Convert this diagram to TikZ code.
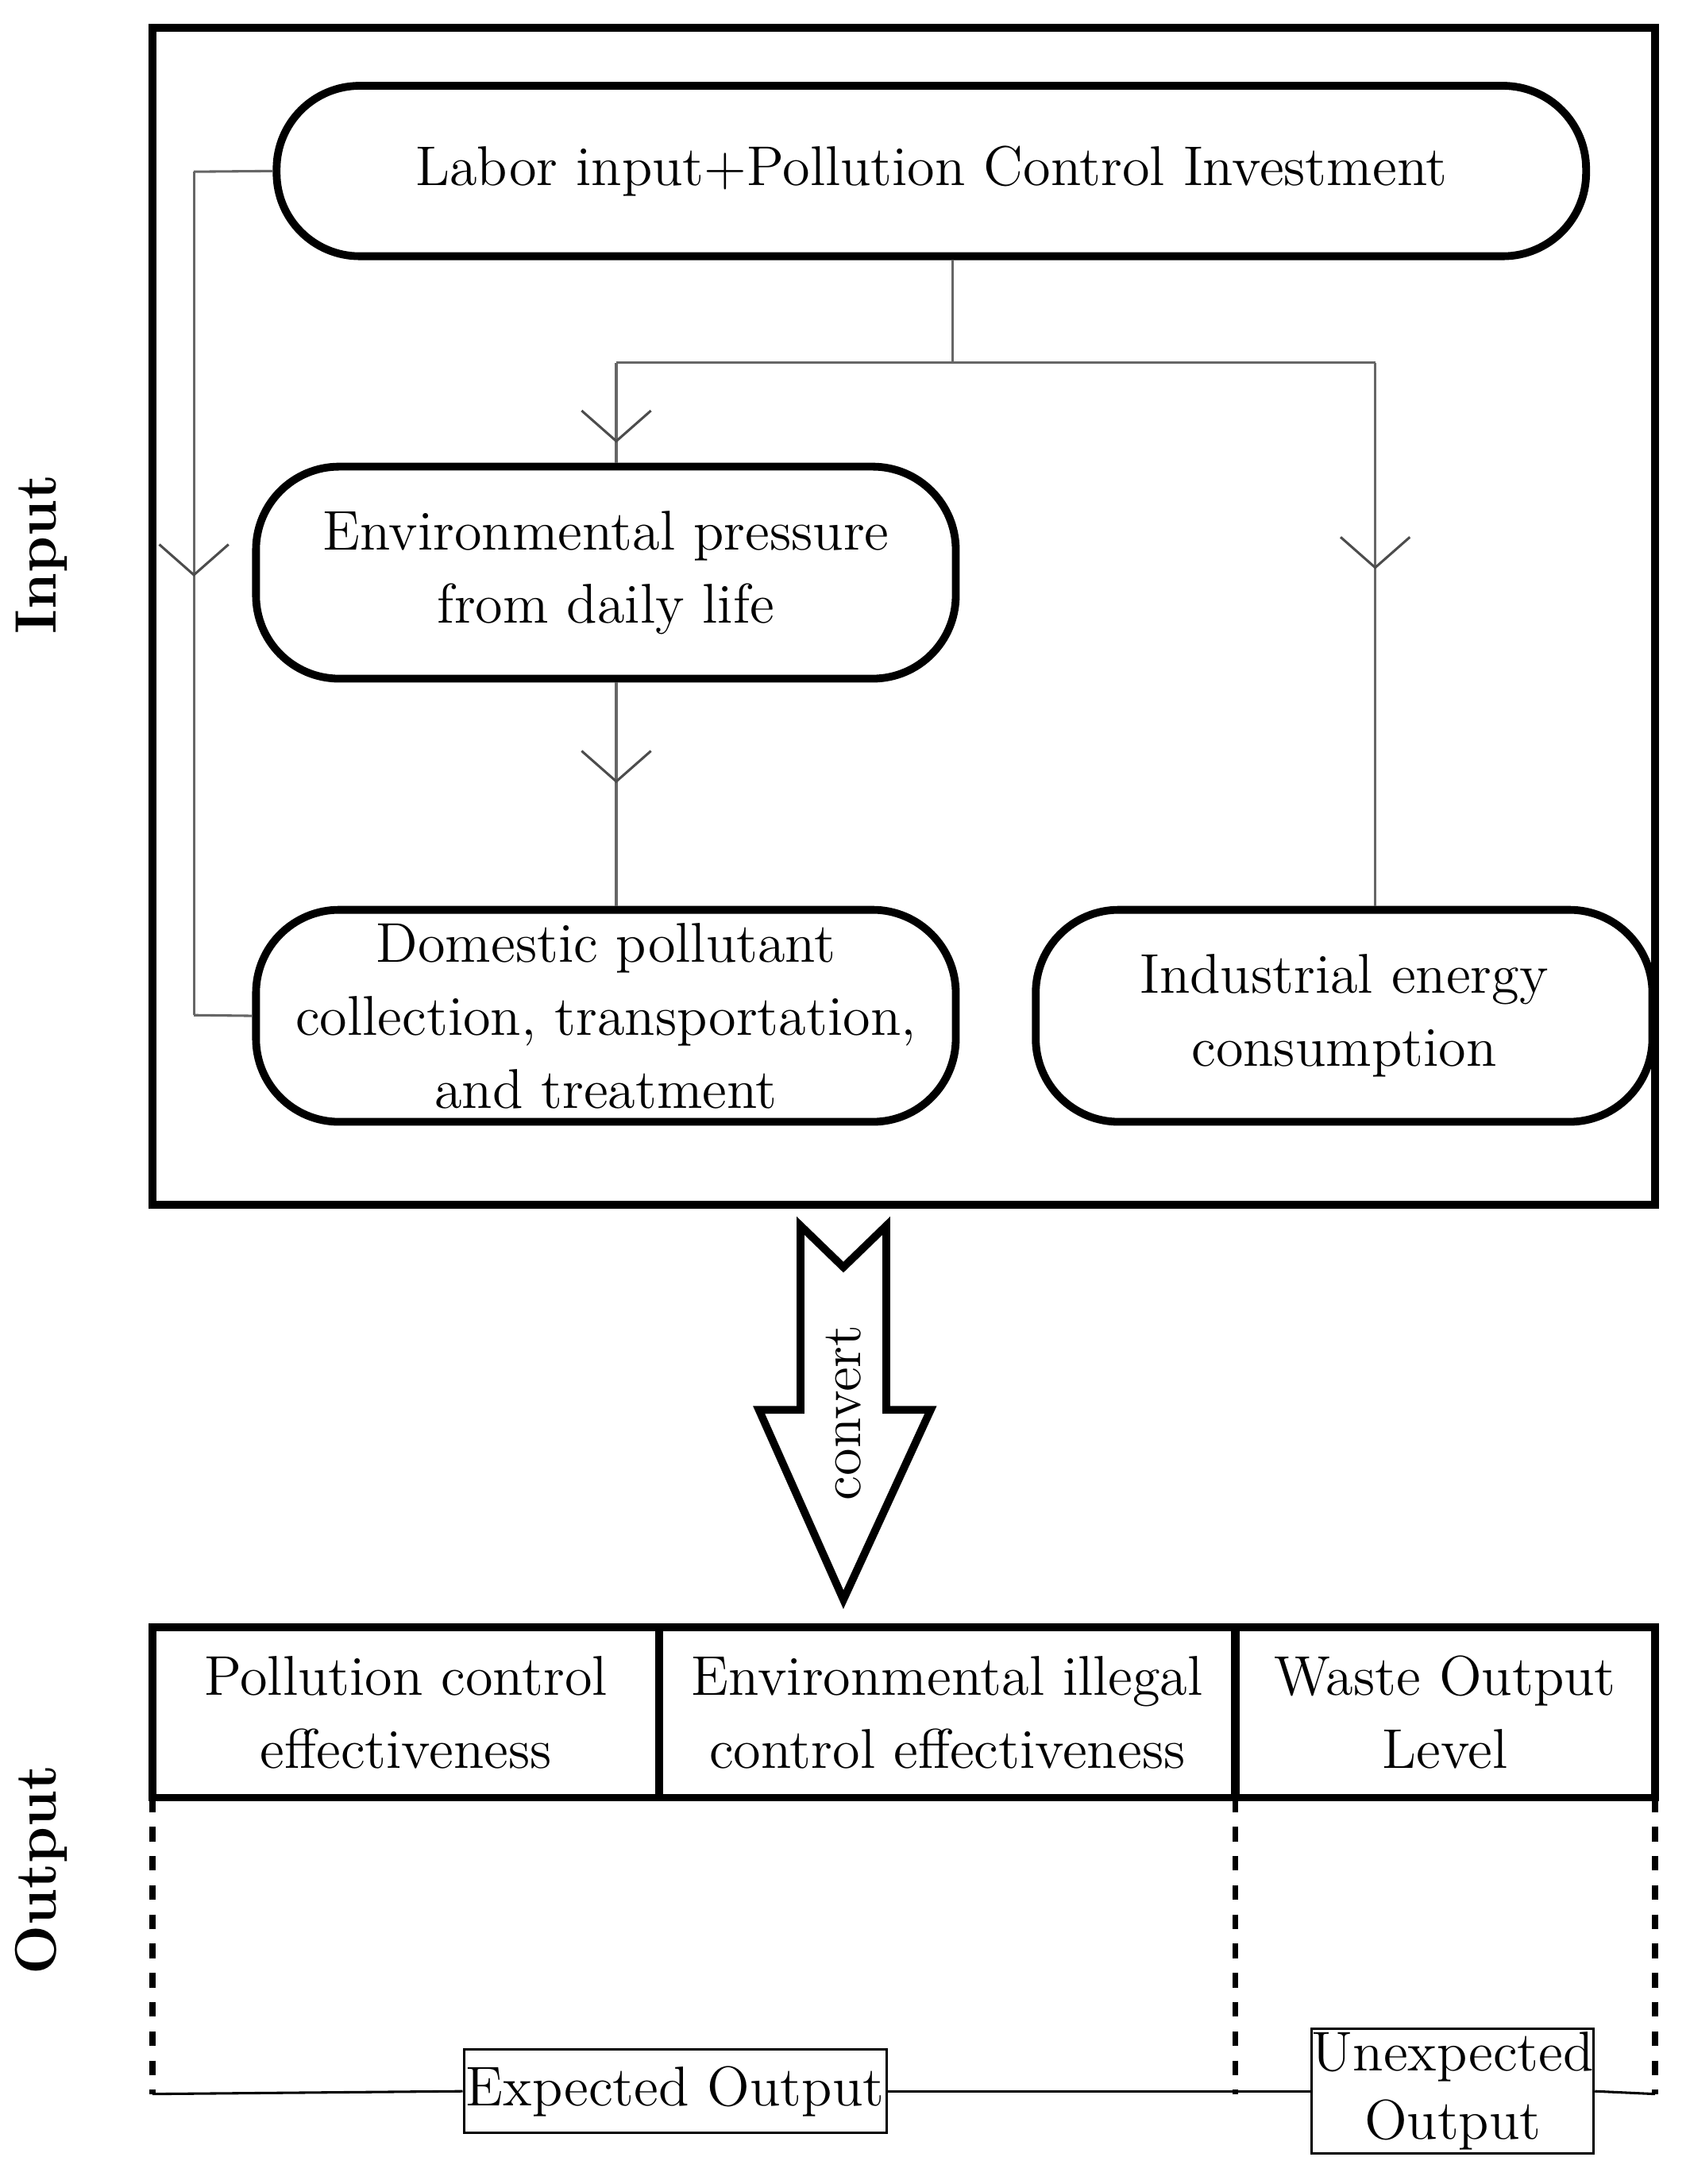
\documentclass[tikz,border=0pt]{standalone}
\usetikzlibrary{arrows.meta,decorations.markings,calc}
\begin{document}
\begin{tikzpicture}[x=0.01cm,y=-0.01cm,
 box/.style={draw,line width=1.6pt,rounded corners=0.6cm,align=center,font=\fontsize{11.5}{15}\selectfont,inner sep=0pt},
 thin/.style={draw,line width=0.5pt,gray!80!black},
 mk/.style={postaction={decorate,decoration={markings,mark=at position #1 with {\arrow[black!70]{Straight Barb[length=2.2mm,width=5mm,line width=0.5pt]}}}}},
 lbl/.style={font=\fontsize{12}{14}\selectfont\bfseries,rotate=90},
 cell/.style={draw,line width=1.6pt,align=center,font=\fontsize{11.5}{15}\selectfont,inner sep=0pt}]
\useasboundingbox (0,0) rectangle (1220,1577);
\draw[line width=1.6pt] (110,20) rectangle (1195,870);
\node[box,minimum width=9.45cm,minimum height=1.23cm] (top) at (672.5,123.5) {Labor input+Pollution Control Investment};
\node[box,minimum width=5.05cm,minimum height=1.53cm] (env) at (437.5,413.5) {Environmental pressure\\from daily life};
\node[box,minimum width=5.05cm,minimum height=1.53cm] (dom) at (437.5,733.5) {Domestic pollutant\\collection, transportation,\\and treatment};
\node[box,minimum width=4.45cm,minimum height=1.53cm] (ind) at (970.5,733.5) {Industrial energy\\consumption};
\coordinate (j) at (688,262);
\coordinate (jl) at (445,262);
\coordinate (jr) at (993,262);
\coordinate (lt) at (140,124);
\coordinate (lb) at (140,733);
\draw[thin] (top.south -| j) -- (j) -- (jl);
\draw[thin] (j) -- (jr);
\draw[thin,mk=0.8] (jl) -- (jl |- env.north);
\draw[thin,mk=0.38] (jr) -- (jr |- ind.north);
\draw[thin,mk=0.45] (env.south -| jl) -- (dom.north -| jl);
\draw[thin] (top.west) -- (lt);
\draw[thin,mk=0.48] (lt) -- (lb);
\draw[thin] (lb) -- (dom.west);
\node[lbl] (in) at (30,400) {Input};
\node[lbl] (out) at (30,1350) {Output};
% big arrow
\draw[line width=1.6pt,fill=white] (578,885) -- (609,915) -- (640,885) -- (640,1018) -- (672,1018) -- (609,1155) -- (548,1018) -- (578,1018) -- cycle;
\node[rotate=90,font=\fontsize{11.5}{14}\selectfont] (cv) at (609,1020) {convert};
% output table
\node[cell,minimum width=3.66cm,minimum height=1.23cm] (c1) at (293,1236.5) {Pollution control\\effectiveness};
\node[cell,minimum width=4.16cm,minimum height=1.23cm] (c2) at (684,1236.5) {Environmental illegal\\control effectiveness};
\node[cell,minimum width=3.03cm,minimum height=1.23cm] (c3) at (1043.5,1236.5) {Waste Output\\Level};
\draw[line width=1.2pt,dashed] (110,1298) -- (110,1512);
\draw[line width=1.2pt,dashed] (892,1298) -- (892,1512);
\draw[line width=1.2pt,dashed] (1195,1298) -- (1195,1512);
\node[draw,line width=0.5pt,minimum width=3.05cm,minimum height=0.6cm,font=\fontsize{11.5}{14}\selectfont,inner sep=0pt] (eo) at (487.5,1510) {Expected Output};
\node[draw,line width=0.5pt,minimum width=2.02cm,minimum height=0.9cm,align=center,font=\fontsize{11.5}{14}\selectfont,inner sep=0pt] (uo) at (1049,1510) {Unexpected\\Output};
\draw[line width=0.5pt] (110,1512) -- (eo.west);
\draw[line width=0.5pt] (eo.east) -- (uo.west);
\draw[line width=0.5pt] (uo.east) -- (1195,1512);
\end{tikzpicture}
\end{document}
